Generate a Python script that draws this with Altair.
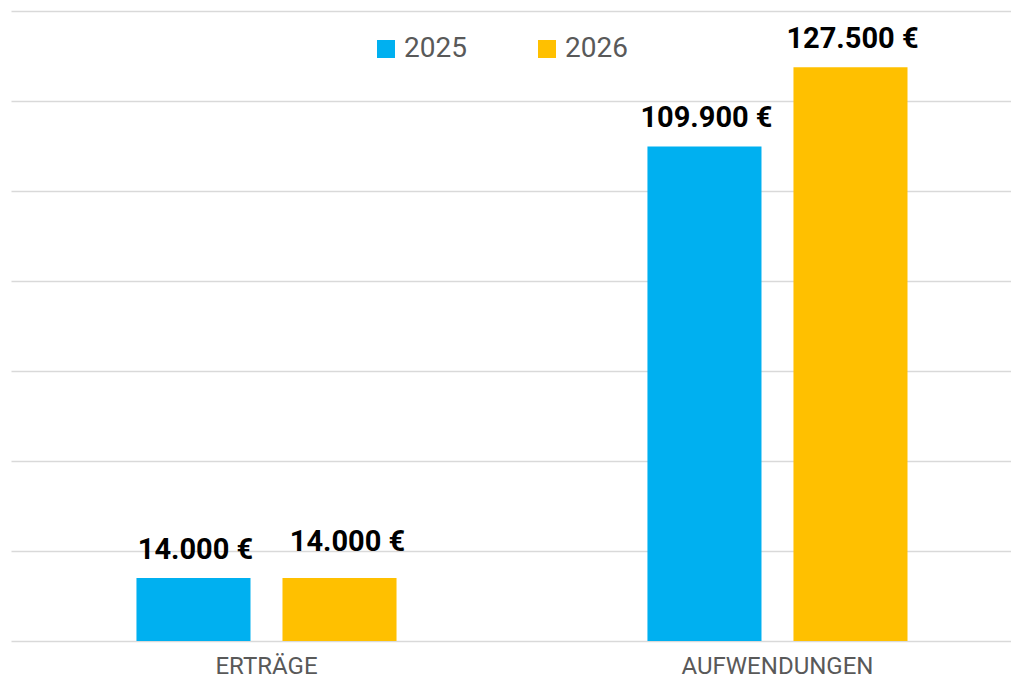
import altair as alt
import pandas as pd

categories = ["ERTRÄGE", "AUFWENDUNGEN"]
years = ["2025", "2026"]
values_2025 = [14000, 109900]
values_2026 = [14000, 127500]
y_ticks = [0, 20000, 40000, 60000, 80000, 100000, 120000, 140000]
colors = ["#00B0F0", "#FFC000"]

rows = []
for c, v in zip(categories, values_2025):
    rows.append({"category": c, "year": "2025", "value": v})
for c, v in zip(categories, values_2026):
    rows.append({"category": c, "year": "2026", "value": v})
df = pd.DataFrame(rows)
df["label"] = df["value"].map(lambda v: f"{v:,}".replace(",", ".") + " €")

FONT = "Roboto"

x = alt.X("category:N", sort=categories, title=None,
          scale=alt.Scale(paddingInner=0.143, paddingOuter=0.05, align=0.715),
          axis=alt.Axis(labelAngle=0, labelFont=FONT, labelFontSize=24,
                        labelColor="#595959", ticks=False, domain=False,
                        labelBaseline="alphabetic", labelPadding=32,
                        labelLimit=600, grid=False))
xo = alt.XOffset("year:N", sort=years,
                 scale=alt.Scale(paddingInner=0.219, paddingOuter=0.609))
y = alt.Y("value:Q", title=None,
          scale=alt.Scale(domain=[0, 140000], nice=False),
          axis=alt.Axis(values=y_ticks, labels=False, ticks=False, domain=False,
                        grid=True, gridColor="#d9d9d9", gridWidth=1.3))

base = alt.Chart(df)

bars = base.mark_bar().encode(
    x=x, xOffset=xo, y=y,
    color=alt.Color("year:N", sort=years,
                    scale=alt.Scale(domain=years, range=colors),
                    legend=alt.Legend(title=None, orient="none", direction="horizontal",
                                      legendX=361, legendY=24, padding=0,
                                      symbolType="square", symbolSize=324,
                                      symbolStrokeWidth=0, labelFont=FONT,
                                      labelFontSize=28, labelColor="#595959",
                                      labelOffset=4, columnPadding=66)),
)

text_main = base.mark_text(font=FONT, fontSize=29, fontWeight="bold",
                           color="#000000", baseline="middle", dy=-28, dx=2).encode(
    x=x, xOffset=xo, y=y, text="label:N"
).transform_filter("!(datum.category == 'ERTRÄGE' && datum.year == '2026')")

text_alt = base.mark_text(font=FONT, fontSize=29, fontWeight="bold",
                          color="#000000", baseline="middle", dy=-36, dx=8).encode(
    x=x, xOffset=xo, y=y, text="label:N"
).transform_filter("datum.category == 'ERTRÄGE' && datum.year == '2026'")

chart = alt.layer(bars, text_main, text_alt).properties(
    width=1000, height=630, background="white",
    autosize=alt.AutoSizeParams(type="none"),
    padding={"left": 3, "top": 3, "right": 0, "bottom": 38},
).configure_view(stroke=None)

chart.save("out.html", embed_options={"renderer": "svg", "actions": False})
